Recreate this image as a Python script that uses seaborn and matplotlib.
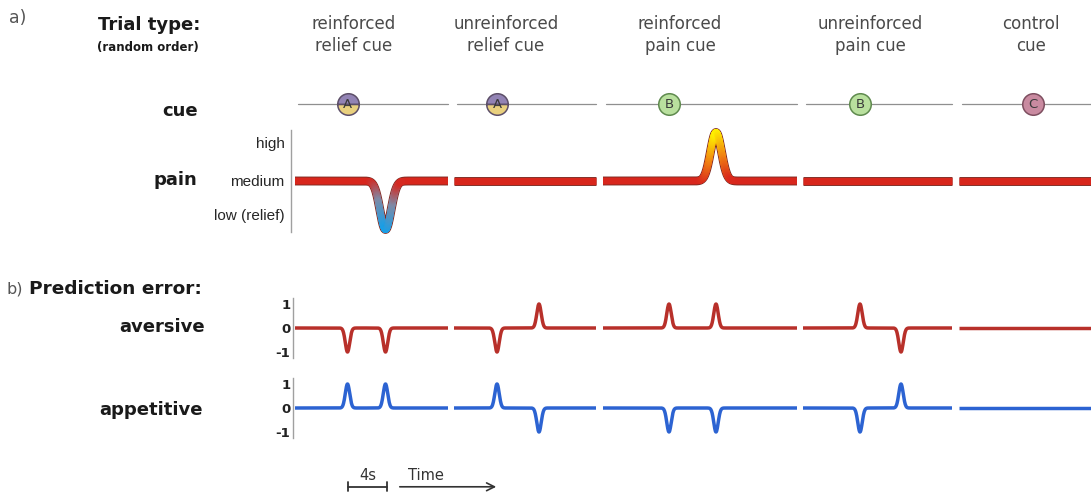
import numpy as np
import pandas as pd
import matplotlib
matplotlib.use("Agg")
import matplotlib.pyplot as plt
import seaborn as sns
from matplotlib.collections import LineCollection
from matplotlib.colors import LinearSegmentedColormap, Normalize

# ---------------------------------------------------------------- data
trial_types = ["reinforced\nrelief cue", "unreinforced\nrelief cue",
               "reinforced\npain cue", "unreinforced\npain cue", "control\ncue"]
cue_letters = ["A", "A", "B", "B", "C"]
# trial windows and events, in seconds
seg_start = [0.0, 15.9, 30.8, 50.8, 66.4]
seg_end = [15.3, 30.1, 50.2, 65.7, 79.6]
cue_onset = [5.25, 20.2, 37.4, 56.5, 73.8]
outcome_time = [9.05, 24.4, 42.1, 60.6, np.nan]
# pain level change at outcome (+ high, - low/relief)
pain_change = [-0.95, 0.0, 0.95, 0.0, 0.0]
# prediction errors at cue and at outcome
aversive_cue = [-1, -1, 1, 1, 0]
aversive_outcome = [-1, 1, 1, -1, 0]
appetitive_cue = [1, 1, -1, -1, 0]
appetitive_outcome = [1, -1, -1, 1, 0]

pain_ticks = ["high", "medium", "low (relief)"]
pe_ticks = ["1", "0", "-1"]

# ---------------------------------------------------------------- style
sns.set_theme(style="white")
plt.rcParams["font.family"] = ["DejaVu Sans"]

W, H = 1091, 493
fig = plt.figure(figsize=(W / 100, H / 100), dpi=100)

T0, PX_PER_S = 295.0, 10.0          # time axis: t=0 at x=295 px, 10 px per s


def tx(px):
    return (px - T0) / PX_PER_S


def add_axes(x0, y0, x1, y1):
    ax = fig.add_axes([x0 / W, 1 - y1 / H, (x1 - x0) / W, (y1 - y0) / H])
    ax.set_xlim(tx(x0), tx(x1))
    ax.set_facecolor("none")
    for s in ax.spines.values():
        s.set_visible(False)
    ax.set_xticks([])
    ax.set_yticks([])
    ax.set_xlabel("")
    ax.set_ylabel("")
    return ax


def ftext(x, y, s, **kw):
    fig.text(x / W, 1 - y / H, s, **kw)


def trace(times, amps, sigma):
    rows = []
    for i, (a, b) in enumerate(zip(seg_start, seg_end)):
        t = np.linspace(a, b, 600)
        y = np.zeros_like(t)
        for ev, amp in zip(times, amps):
            ev_t, ev_a = ev[i], amp[i]
            if ev_a != 0 and np.isfinite(ev_t):
                y += ev_a * np.exp(-0.5 * ((t - ev_t) / sigma) ** 2)
        rows.append(pd.DataFrame({"t": t, "value": y, "trial": i}))
    return pd.concat(rows, ignore_index=True)


# ---------------------------------------------------------------- cue row
ax_cue = add_axes(293, 90, 1091, 118)
ax_cue.set_ylim(-1, 1)
for a, b in zip(seg_start, seg_end):
    ax_cue.plot([a + 0.3, b], [0, 0], color="#8f8f8f", lw=0.9, zorder=1)
cue_style = {
    "A": dict(markerfacecolor="#9283b4", markerfacecoloralt="#e9d07e",
              markeredgecolor="#5d4f68", fillstyle="top"),
    "B": dict(markerfacecolor="#b9e09e", markeredgecolor="#5f8a4e"),
    "C": dict(markerfacecolor="#c98aa0", markeredgecolor="#7e4f60"),
}
for t, L in zip(cue_onset, cue_letters):
    ax_cue.plot([t], [0], marker="o", ms=15.5, mew=1.1, zorder=3,
                clip_on=False, **cue_style[L])
    ax_cue.text(t, 0, L, ha="center", va="center", fontsize=9.5,
                color="#3a3a3a", zorder=4)

# ---------------------------------------------------------------- pain row
ax_pain = add_axes(291, 130, 1091, 232)
ax_pain.set_ylim(-1, 1)
pain = trace([outcome_time], [pain_change], 0.55)
sns.lineplot(data=pain, x="t", y="value", units="trial", estimator=None,
             color="#7c2a22", lw=6.4, ax=ax_pain, legend=False,
             solid_capstyle="butt", clip_on=False)
sns.lineplot(data=pain, x="t", y="value", units="trial", estimator=None,
             color="#d8261c", lw=5.1, ax=ax_pain, legend=False,
             solid_capstyle="butt", clip_on=False)
pain_cmap = LinearSegmentedColormap.from_list(
    "pain", [(0.0, "#189fe8"), (0.28, "#7f8aa6"), (0.5, "#d8261c"),
             (0.72, "#f07d12"), (1.0, "#fff000")])
norm = Normalize(-0.95, 0.95)
for i, g in pain.groupby("trial"):
    m = np.abs(g["value"].to_numpy()) > 0.01
    if not m.any():
        continue
    pts = np.column_stack([g["t"].to_numpy()[m], g["value"].to_numpy()[m]])
    segs = np.stack([pts[:-1], pts[1:]], axis=1)
    lc = LineCollection(segs, cmap=pain_cmap, norm=norm, lw=5.1,
                        capstyle="round", clip_on=False, zorder=5)
    lc.set_array(0.5 * (pts[:-1, 1] + pts[1:, 1]))
    ax_pain.add_collection(lc)
ax_pain.spines["left"].set_visible(True)
ax_pain.spines["left"].set_color("#a0a0a0")
ax_pain.spines["left"].set_linewidth(1.0)
ax_pain.set_yticks([0.76, 0.0, -0.65])
ax_pain.set_yticklabels(pain_ticks, fontfamily="Liberation Sans",
                        fontsize=11, color="#262626")
ax_pain.tick_params(axis="y", length=0, pad=4.5)
ax_pain.set_xlabel("")
ax_pain.set_ylabel("")

# ---------------------------------------------------------------- prediction errors
pe_rows = [
    ("aversive", aversive_cue, aversive_outcome, "#b8302a", 298, 358),
    ("appetitive", appetitive_cue, appetitive_outcome, "#2c63d2", 378, 438),
]
for name, cue_pe, out_pe, col, y0, y1 in pe_rows:
    ax = add_axes(293, y0, 1091, y1)
    ax.set_ylim(-1.25, 1.25)
    df = trace([cue_onset, outcome_time], [cue_pe, out_pe], 0.22)
    sns.lineplot(data=df, x="t", y="value", units="trial", estimator=None,
                 color=col, lw=2.5, ax=ax, legend=False,
                 solid_capstyle="butt", clip_on=False)
    ax.spines["left"].set_visible(True)
    ax.spines["left"].set_color("#a0a0a0")
    ax.spines["left"].set_linewidth(1.0)
    ax.set_yticks([1, 0, -1])
    ax.set_yticklabels(pe_ticks, fontsize=9.5, fontweight="bold",
                       color="#222222")
    ax.tick_params(axis="y", length=0, pad=2)
    ax.set_xlabel("")
    ax.set_ylabel("")

# ---------------------------------------------------------------- time scale
ax_t = add_axes(293, 462, 1091, 493)
ax_t.set_ylim(0, 1)
bar = (tx(348), tx(387))
ax_t.plot(bar, [0.2, 0.2], color="#333333", lw=1.3)
for b in bar:
    ax_t.plot([b, b], [0.05, 0.35], color="#333333", lw=1.3)
ax_t.text(np.mean(bar), 0.58, "4s", ha="center", va="center",
          fontsize=10.5, color="#333333")
ax_t.annotate("", xy=(tx(499), 0.2), xytext=(tx(397), 0.2),
              arrowprops=dict(arrowstyle="->", color="#333333", lw=1.2,
                              mutation_scale=14))
ax_t.text(tx(408), 0.58, "Time", ha="left", va="center", fontsize=10.5,
          color="#333333")

# ---------------------------------------------------------------- labels
title_x = [354, 506, 680, 870, 1031]
for x, s in zip(title_x, trial_types):
    ftext(x, 35, s, ha="center", va="center", fontsize=12, color="#4a4a4a",
          linespacing=1.32)

ftext(9, 18, "a)", fontsize=12.5, color="#555555", va="center")
ftext(6, 289, "b)", fontsize=11.5, color="#555555", va="center")
ftext(98, 25, "Trial type:", fontsize=13, fontweight="bold", color="#1a1a1a",
      va="center")
ftext(97, 47, "(random order)", fontsize=8.5, fontweight="bold",
      color="#1a1a1a", va="center")
ftext(29, 289, "Prediction error:", fontsize=13.3, fontweight="bold",
      color="#1a1a1a", va="center")
for x, y, s in [(198, 111, "cue"), (197, 180, "pain"),
                (205, 327, "aversive"), (203, 410, "appetitive")]:
    ftext(x, y, s, ha="right", va="center", fontsize=13, fontweight="bold",
          color="#1a1a1a")

fig.savefig("out.png", dpi=100, facecolor="white")
